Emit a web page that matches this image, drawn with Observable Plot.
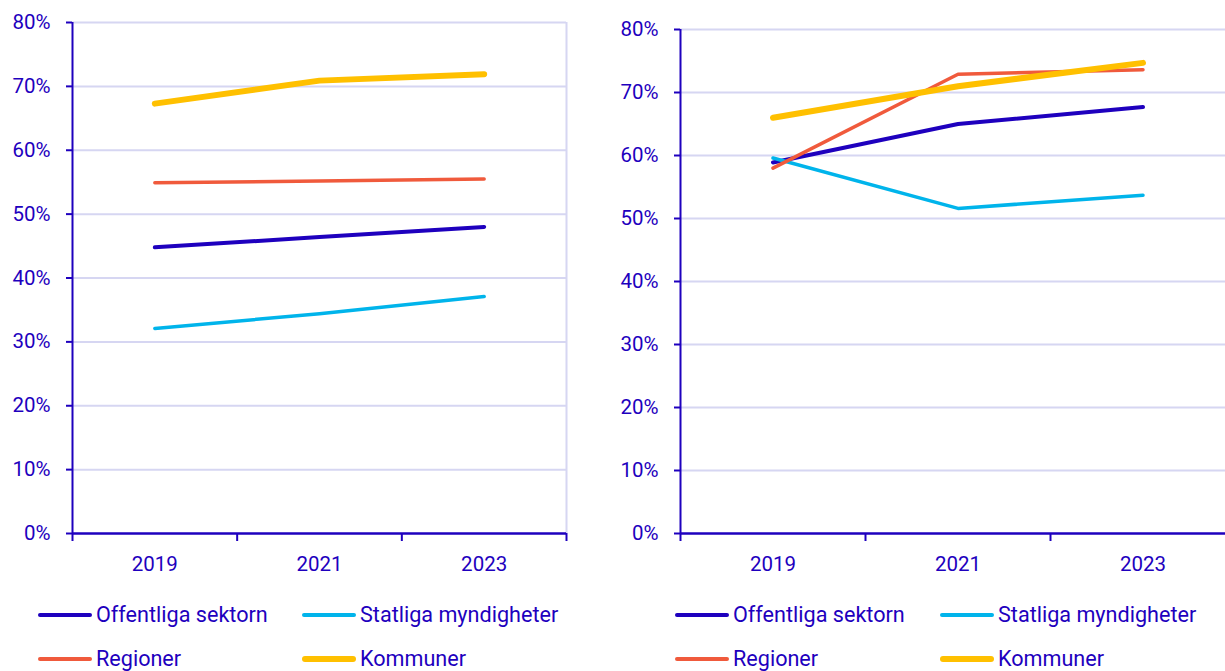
<!DOCTYPE html>
<html><head><meta charset="utf-8">
<script src="https://cdn.jsdelivr.net/npm/d3@7"></script>
<script src="https://cdn.jsdelivr.net/npm/@observablehq/plot@0.6"></script>
<style>
html,body{margin:0;padding:0;background:#fff;overflow:hidden;width:1225px;height:671px}
#wrap{position:relative;width:1225px;height:671px;overflow:hidden;font-family:Roboto,sans-serif;color:#1e00be}
.chart{position:absolute;top:0}
.item{position:absolute;display:flex;align-items:center;white-space:nowrap;font-size:21.6px;line-height:24px;transform:translateY(-50%)}
.sw{display:inline-block;width:54px;border-radius:3px;margin-right:4px}
</style></head><body><div id="wrap"></div>
<script>
const years = [2019, 2021, 2023];
const seriesNames = ["Offentliga sektorn", "Statliga myndigheter", "Regioner", "Kommuner"];
const seriesColors = ["#1e00be", "#00b4eb", "#f05a3c", "#ffc000"];
const seriesWidths = [4, 3.5, 3.5, 6];

const leftOffentliga = [44.8, 46.4, 48.0];
const leftStatliga = [32.1, 34.4, 37.1];
const leftRegioner = [54.9, 55.2, 55.5];
const leftKommuner = [67.3, 70.9, 71.9];

const rightOffentliga = [58.9, 65.0, 67.7];
const rightStatliga = [59.6, 51.6, 53.7];
const rightRegioner = [58.0, 72.9, 73.6];
const rightKommuner = [66.0, 71.0, 74.7];

const yTicks = [0, 10, 20, 30, 40, 50, 60, 70, 80];
const xBoundaries = [2018, 2020, 2022, 2024];

const textColor = "#1e00be";
const gridColor = "#d6d6f2";

function toRows(valueLists) {
  const rows = [];
  valueLists.forEach((vals, si) => {
    vals.forEach((v, i) => rows.push({series: seriesNames[si], year: years[i], value: v}));
  });
  return rows;
}

function makeChart(valueLists, opts) {
  const rows = toRows(valueLists);
  const marks = [
    Plot.gridY(yTicks.slice(1), {stroke: gridColor, strokeOpacity: 1, strokeWidth: 2}),
    Plot.ruleX([xBoundaries[xBoundaries.length - 1]], {stroke: gridColor, strokeWidth: 2}),
    Plot.axisY({ticks: yTicks, tickFormat: d => d + "%", tickSize: 6, tickPadding: 16, stroke: textColor, strokeWidth: 2, fill: textColor, label: null}),
    Plot.axisX({ticks: xBoundaries, tickFormat: () => "", tickSize: 8, stroke: textColor, strokeWidth: 2, label: null}),
    Plot.axisX({ticks: years, tickFormat: d => String(d), tickSize: 0, tickPadding: 23, fill: textColor, label: null}),
    Plot.ruleX([xBoundaries[0]], {stroke: textColor, strokeWidth: 2}),
    Plot.ruleY([0], {stroke: textColor, strokeWidth: 2.5}),
  ];
  seriesNames.forEach((name, si) => {
    marks.push(Plot.line(rows.filter(r => r.series === name), {
      x: "year", y: "value", stroke: seriesColors[si], strokeWidth: seriesWidths[si], strokeLinecap: "round", strokeLinejoin: "round"
    }));
  });
  return Plot.plot({
    width: opts.width, height: 575,
    marginLeft: opts.marginLeft, marginRight: opts.marginRight, marginTop: opts.marginTop, marginBottom: 42,
    x: {domain: [xBoundaries[0], xBoundaries[xBoundaries.length - 1]], label: null},
    y: {domain: [0, 80], label: null},
    style: {fontFamily: "Roboto, sans-serif", fontSize: "20.5px", color: textColor, background: "transparent", overflow: "visible"},
    marks
  });
}

const wrap = document.getElementById("wrap");

const left = makeChart([leftOffentliga, leftStatliga, leftRegioner, leftKommuner], {width: 600, marginLeft: 72, marginRight: 34, marginTop: 22});
left.classList.add("chart"); left.style.left = "0px";
wrap.appendChild(left);

const right = makeChart([rightOffentliga, rightStatliga, rightRegioner, rightKommuner], {width: 615, marginLeft: 60, marginRight: 0, marginTop: 29});
right.classList.add("chart"); right.style.left = "620px";
wrap.appendChild(right);

function legend(x0, x1) {
  const cols = [x0, x1];
  const rowsY = [615, 659];
  seriesNames.forEach((name, i) => {
    const el = document.createElement("div");
    el.className = "item";
    el.style.left = cols[i % 2] + "px";
    el.style.top = rowsY[Math.floor(i / 2)] + "px";
    const sw = document.createElement("span");
    sw.className = "sw";
    sw.style.height = seriesWidths[i] + "px";
    sw.style.background = seriesColors[i];
    const t = document.createElement("span");
    t.textContent = name;
    el.appendChild(sw); el.appendChild(t);
    wrap.appendChild(el);
  });
}
legend(38, 302);
legend(675, 940);
</script>
</body></html>
